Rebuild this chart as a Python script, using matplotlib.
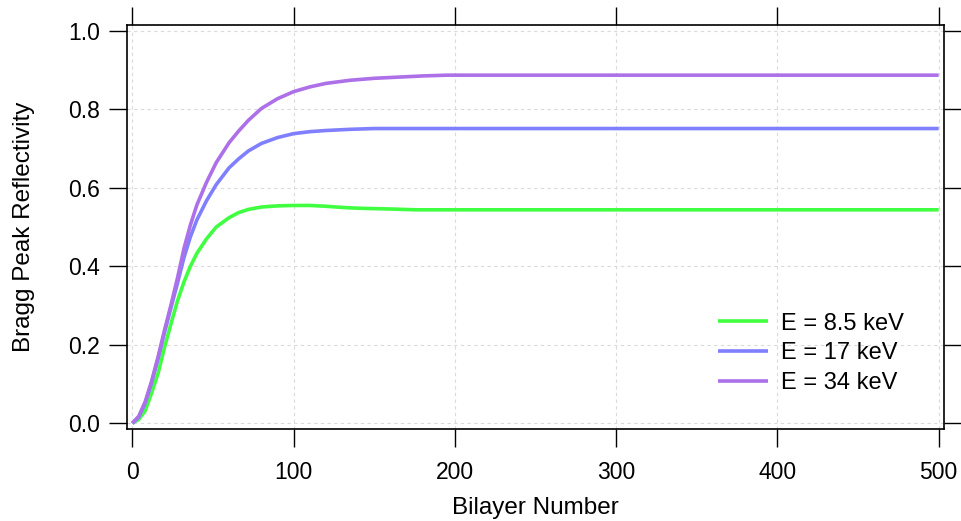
import numpy as np
import matplotlib
matplotlib.use("Agg")
import matplotlib.pyplot as plt
from matplotlib.ticker import MultipleLocator, FormatStrFormatter

# ---------- Config ----------
plt.rcParams["font.family"] = ["Liberation Sans", "DejaVu Sans"]

# ---------- Data ----------
n_85 = [0, 4, 8, 12, 16, 20, 24, 28, 32, 36, 40, 46, 52, 60, 66, 72, 80, 90,
        100, 110, 120, 130, 140, 150, 160, 175, 200, 300, 400, 500]
r_85 = [0.0, 0.010, 0.032, 0.078, 0.128, 0.194, 0.254, 0.312, 0.360, 0.400,
        0.433, 0.470, 0.500, 0.524, 0.537, 0.545, 0.551, 0.554, 0.555, 0.555,
        0.553, 0.550, 0.548, 0.547, 0.546, 0.544, 0.544, 0.544, 0.544, 0.544]

n_17 = [0, 4, 8, 12, 16, 20, 24, 28, 32, 36, 40, 46, 52, 60, 66, 72, 80, 90,
        100, 110, 120, 135, 150, 200, 300, 400, 500]
r_17 = [0.0, 0.016, 0.052, 0.104, 0.165, 0.232, 0.295, 0.357, 0.422, 0.475,
        0.518, 0.567, 0.608, 0.651, 0.674, 0.694, 0.713, 0.728, 0.738, 0.743,
        0.746, 0.749, 0.751, 0.751, 0.751, 0.751, 0.751]

n_34 = [0, 4, 8, 12, 16, 20, 24, 28, 32, 36, 40, 46, 52, 60, 66, 72, 80, 90,
        100, 110, 120, 135, 150, 165, 180, 195, 300, 400, 500]
r_34 = [0.0, 0.018, 0.055, 0.108, 0.170, 0.238, 0.302, 0.370, 0.445, 0.505,
        0.556, 0.614, 0.664, 0.715, 0.745, 0.772, 0.802, 0.827, 0.845, 0.857,
        0.866, 0.874, 0.879, 0.882, 0.885, 0.887, 0.887, 0.887, 0.887]

series = [
    ("E = 8.5 keV", n_85, r_85, "#40FF40"),
    ("E = 17 keV", n_17, r_17, "#8080FF"),
    ("E = 34 keV", n_34, r_34, "#AD70E8"),
]

# ---------- Plot ----------
W, H = 962, 521
fig = plt.figure(figsize=(W / 100, H / 100), dpi=100)
L, R, T, B = 127, 944, 25, 429
ax = fig.add_axes([L / W, 1 - B / H, (R - L) / W, (B - T) / H])

for label, n, r, color in series:
    ax.plot(n, r, color=color, linewidth=2.6, label=label,
            solid_capstyle="butt", solid_joinstyle="round")

ax.set_xlim(-3.3, 503.3)
ax.set_ylim(-0.0145, 1.0148)
ax.xaxis.set_major_locator(MultipleLocator(100))
ax.yaxis.set_major_locator(MultipleLocator(0.2))
ax.yaxis.set_major_formatter(FormatStrFormatter("%.1f"))

ax.grid(True, color="#dadada", linestyle=(0, (3, 3)), linewidth=0.8)
ax.set_axisbelow(True)

for s in ax.spines.values():
    s.set_linewidth(1.2)

ax.tick_params(axis="both", which="major", direction="out", length=12.7,
               width=1.0, labelsize=16.5, top=True, right=True)
ax.tick_params(axis="y", pad=7)
ax.tick_params(axis="x", pad=10.5)

ax.set_xlabel("Bilayer Number", fontsize=17.5)
ax.set_ylabel("Bragg Peak Reflectivity", fontsize=17.5)
ax.xaxis.set_label_coords(0.5, -0.168)
ax.yaxis.set_label_coords(-0.112, 0.5)

ax.legend(loc="upper left", bbox_to_anchor=(0.7234, 0.2880), frameon=False,
          fontsize=17, borderpad=0, borderaxespad=0, labelspacing=0.33,
          handlelength=2.1, handletextpad=0.55)

fig.savefig("out.png", dpi=100)
plt.close(fig)
